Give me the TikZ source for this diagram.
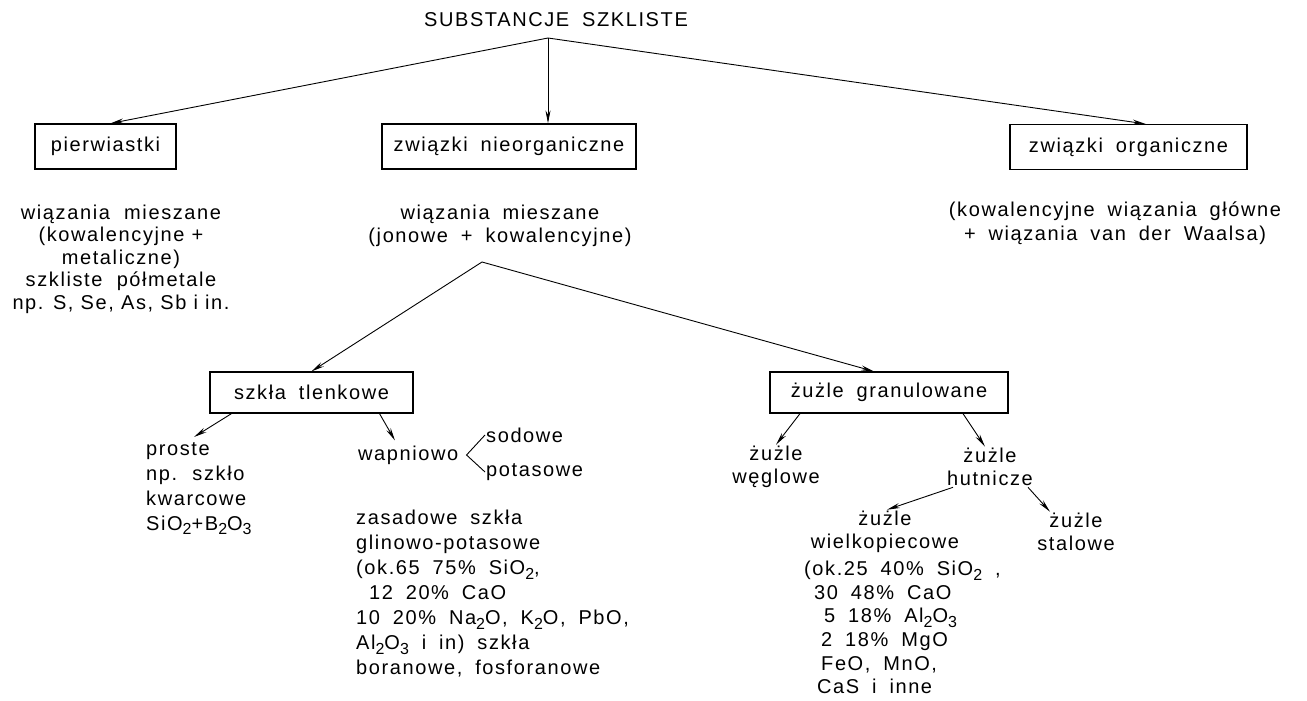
\documentclass[tikz,border=0pt]{standalone}
\usepackage{fontspec}
\setmainfont{Liberation Sans}[LetterSpace=8,WordSpace=1.8]
\newfontfamily\narrowfont{Liberation Sans}[LetterSpace=8,WordSpace=1.0]
\usetikzlibrary{arrows.meta}
\newcommand\idx[1]{\raisebox{-0.45ex}{\fontsize{16}{16}\selectfont #1}}
\tikzset{
  txt/.style={font=\fontsize{20}{23.5}\selectfont, inner sep=1pt, align=center},
  ltxt/.style={txt, align=left},
  box/.style={draw, line width=1.2pt, font=\fontsize{20}{23.5}\selectfont, inner sep=0pt},
  arr/.style={line width=0.9pt, -{Stealth[length=13pt,width=5pt]}},
  brk/.style={line width=0.9pt}
}
\begin{document}
\begin{tikzpicture}[x=1pt,y=-1pt]
\useasboundingbox (0,0) rectangle (1307,701);
% top
\node[txt] (T) at (556,20) {SUBSTANCJE SZKLISTE};
\coordinate (apex) at (548,38);
\node[box, minimum width=141pt, minimum height=45pt] (P) at (105.5,146.5) {pierwiastki};
\node[box, minimum width=254pt, minimum height=45pt] (N) at (509,146.5) {związki nieorganiczne};
\node[box, minimum width=237pt, minimum height=45pt] (O) at (1128.5,147) {związki organiczne};
\draw[arr] (apex) -- ([xshift=5pt]P.north);
\draw[arr] (apex) -- (apex |- N.north);
\draw[arr] (apex) -- ([xshift=17pt]O.north);
% second row texts
\node[txt, font=\fontsize{20}{22.5}\narrowfont] (L1) at (121,259) {wiązania \ mieszane\\(kowalencyjne +\\metaliczne)\\szkliste \ półmetale\\np. S, Se, As, Sb i in.};
\node[txt] (M1) at (500,226) {wiązania mieszane\\(jonowe + kowalencyjne)};
\node[txt] (R1) at (1115,223) {(kowalencyjne wiązania główne\\+ wiązania van der Waalsa)};
\coordinate (apex2) at (482,262);
% third row boxes
\node[box, minimum width=203pt, minimum height=41pt] (S) at (311.5,392.5) {szkła tlenkowe};
\node[box, minimum width=238pt, minimum height=41pt] (G) at (889,392.5) {żużle granulowane};
\draw[arr] (apex2) -- (S.north);
\draw[arr] (apex2) -- ([xshift=-15pt]G.north);
% left subtree
\node[ltxt, anchor=north west, font=\fontsize{20}{25}\selectfont] (PR) at (145,441) {proste\\np. szkło\\kwarcowe\\SiO\idx{2}+B\idx{2}O\idx{3}};
\draw[arr] ([xshift=-80pt]S.south) -- ([xshift=49pt,yshift=4pt]PR.north west);
\node[txt, anchor=west] (W) at (357,455) {wapniowo};
\draw[arr] ([xshift=68pt]S.south) -- ([xshift=38pt,yshift=4pt]W.north west);
\node[txt, anchor=west] (SO) at (485,435) {sodowe};
\node[txt, anchor=west] (PO) at (485,472) {potasowe};
\coordinate (br) at ([xshift=7pt]W.east);
\draw[brk] (SO.west) -- (br) -- (PO.west);
\node[ltxt, anchor=north west, font=\fontsize{20}{25}\selectfont] (Z) at (355,509) {zasadowe szkła\\glinowo-potasowe\\(ok.65 75\% SiO\idx{2},\\\ 12 20\% CaO\\10 20\% Na\idx{2}O, K\idx{2}O, PbO,\\Al\idx{2}O\idx{3} i in) szkła\\boranowe, fosforanowe};
% right subtree
\node[txt] (WE) at (776,467) {żużle\\węglowe};
\node[txt] (HU) at (990,467) {żużle\\hutnicze};
\draw[arr] ([xshift=-89pt]G.south) -- (WE.north);
\draw[arr] ([xshift=74pt]G.south) -- ([xshift=-5pt]HU.north);
\node[txt] (WK) at (885,532) {żużle\\wielkopiecowe};
\node[txt] (ST) at (1076,532) {żużle\\stalowe};
\draw[arr] ([xshift=-37pt]HU.south) -- ([xshift=2pt]WK.north);
\draw[arr] ([xshift=38pt]HU.south) -- ([xshift=-26pt]ST.north);
\node[ltxt, anchor=north west, font=\fontsize{20}{23.6}\selectfont] (WD) at (803,560) {(ok.25 40\% SiO\idx{2} ,\\\hspace{10pt}30 48\% CaO\\\hspace{20pt}5 18\% Al\idx{2}O\idx{3}\\\hspace{17pt}2 18\% MgO\\\hspace{17pt}FeO, MnO,\\\hspace{13pt}CaS i inne};
\end{tikzpicture}
\end{document}
